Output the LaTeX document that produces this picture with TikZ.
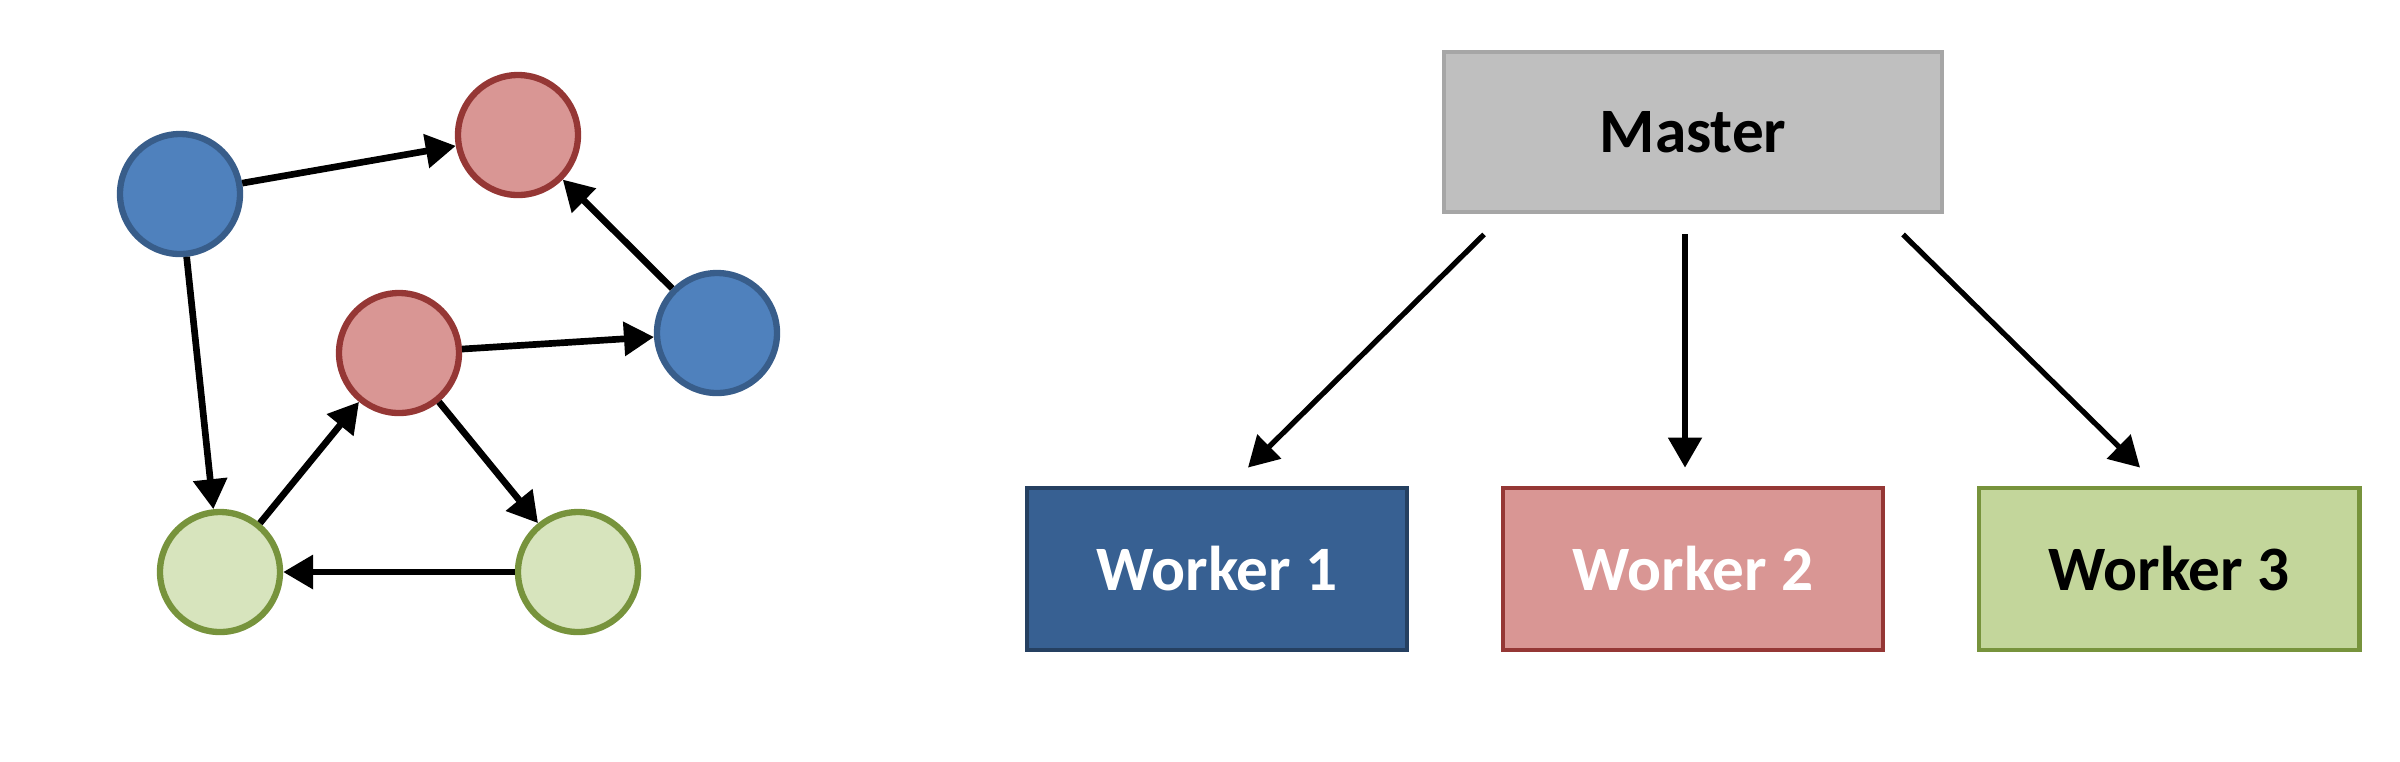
\documentclass[tikz,border=0pt]{standalone}
\usepackage{fontspec}
\setmainfont{Carlito}
\usetikzlibrary{shapes,arrows,positioning,arrows.meta}
\usepackage{xcolor}

\definecolor{bluefill}{HTML}{4F81BD}
\definecolor{blueline}{HTML}{385D8A}
\definecolor{redfill}{HTML}{D99694}
\definecolor{redline}{HTML}{953735}
\definecolor{greenfill}{HTML}{D7E4BD}
\definecolor{greenline}{HTML}{77933C}
\definecolor{darkbluefill}{HTML}{376092}
\definecolor{darkblueline}{HTML}{254061}
\definecolor{limefill}{HTML}{C3D69B}
\definecolor{greyfill}{HTML}{BFBFBF}
\definecolor{greyline}{HTML}{A6A6A6}

\begin{document}
\begin{tikzpicture}[node distance=4.76cm, >={Triangle[length=0.3cm,width=0.33cm]}]
    \tikzstyle{vertex} = [circle, draw, line width=1.8pt, minimum size=1.2cm, inner sep=0pt]
    \tikzstyle{box} = [rectangle, draw, line width=1.4pt, minimum width=3.8cm, minimum height=1.62cm, font=\fontsize{18}{21}\selectfont\bfseries]
    \tikzstyle{edge} = [->, line width=1.9pt]
    \tikzstyle{link} = [->, line width=1.5pt]
    \useasboundingbox (0,0) rectangle (24,-7.61);

    % graph
    \node (blueA) [vertex, fill=bluefill, draw=blueline] at (1.80,-1.94) {};
    \node (redA) [vertex, fill=redfill, draw=redline] at (5.18,-1.35) {};
    \node (redB) [vertex, fill=redfill, draw=redline] at (3.99,-3.53) {};
    \node (blueB) [vertex, fill=bluefill, draw=blueline] at (7.17,-3.33) {};
    \node (greenA) [vertex, fill=greenfill, draw=greenline] at (2.20,-5.72) {};
    \node (greenB) [vertex, fill=greenfill, draw=greenline] at (5.78,-5.72) {};

    \draw [edge] (blueA) -- (redA);
    \draw [edge] (blueB) -- (redA);
    \draw [edge] (redB) -- (blueB);
    \draw [edge] (blueA) -- (greenA);
    \draw [edge] (greenA) -- (redB);
    \draw [edge] (redB) -- (greenB);
    \draw [edge] (greenB) -- (greenA);

    % master and workers
    \node (master) [box, fill=greyfill, draw=greyline, minimum width=4.98cm, minimum height=1.6cm] at (16.93,-1.32) {Master};
    \node (worker2) [box, fill=redfill, draw=redline, text=white, below of=master, node distance=4.37cm] {Worker 2};
    \node (worker1) [box, fill=darkbluefill, draw=darkblueline, text=white, left of=worker2] {Worker 1};
    \node (worker3) [box, fill=limefill, draw=greenline, right of=worker2] {Worker 3};

    \draw [link] ([xshift=-2.09cm,yshift=-0.2cm]master.south) -- ([xshift=0.31cm,yshift=0.18cm]worker1.north);
    \draw [link] ([xshift=-0.08cm,yshift=-0.2cm]master.south) -- ([xshift=-0.08cm,yshift=0.18cm]worker2.north);
    \draw [link] ([xshift=2.10cm,yshift=-0.2cm]master.south) -- ([xshift=-0.29cm,yshift=0.18cm]worker3.north);

\end{tikzpicture}
\end{document}
